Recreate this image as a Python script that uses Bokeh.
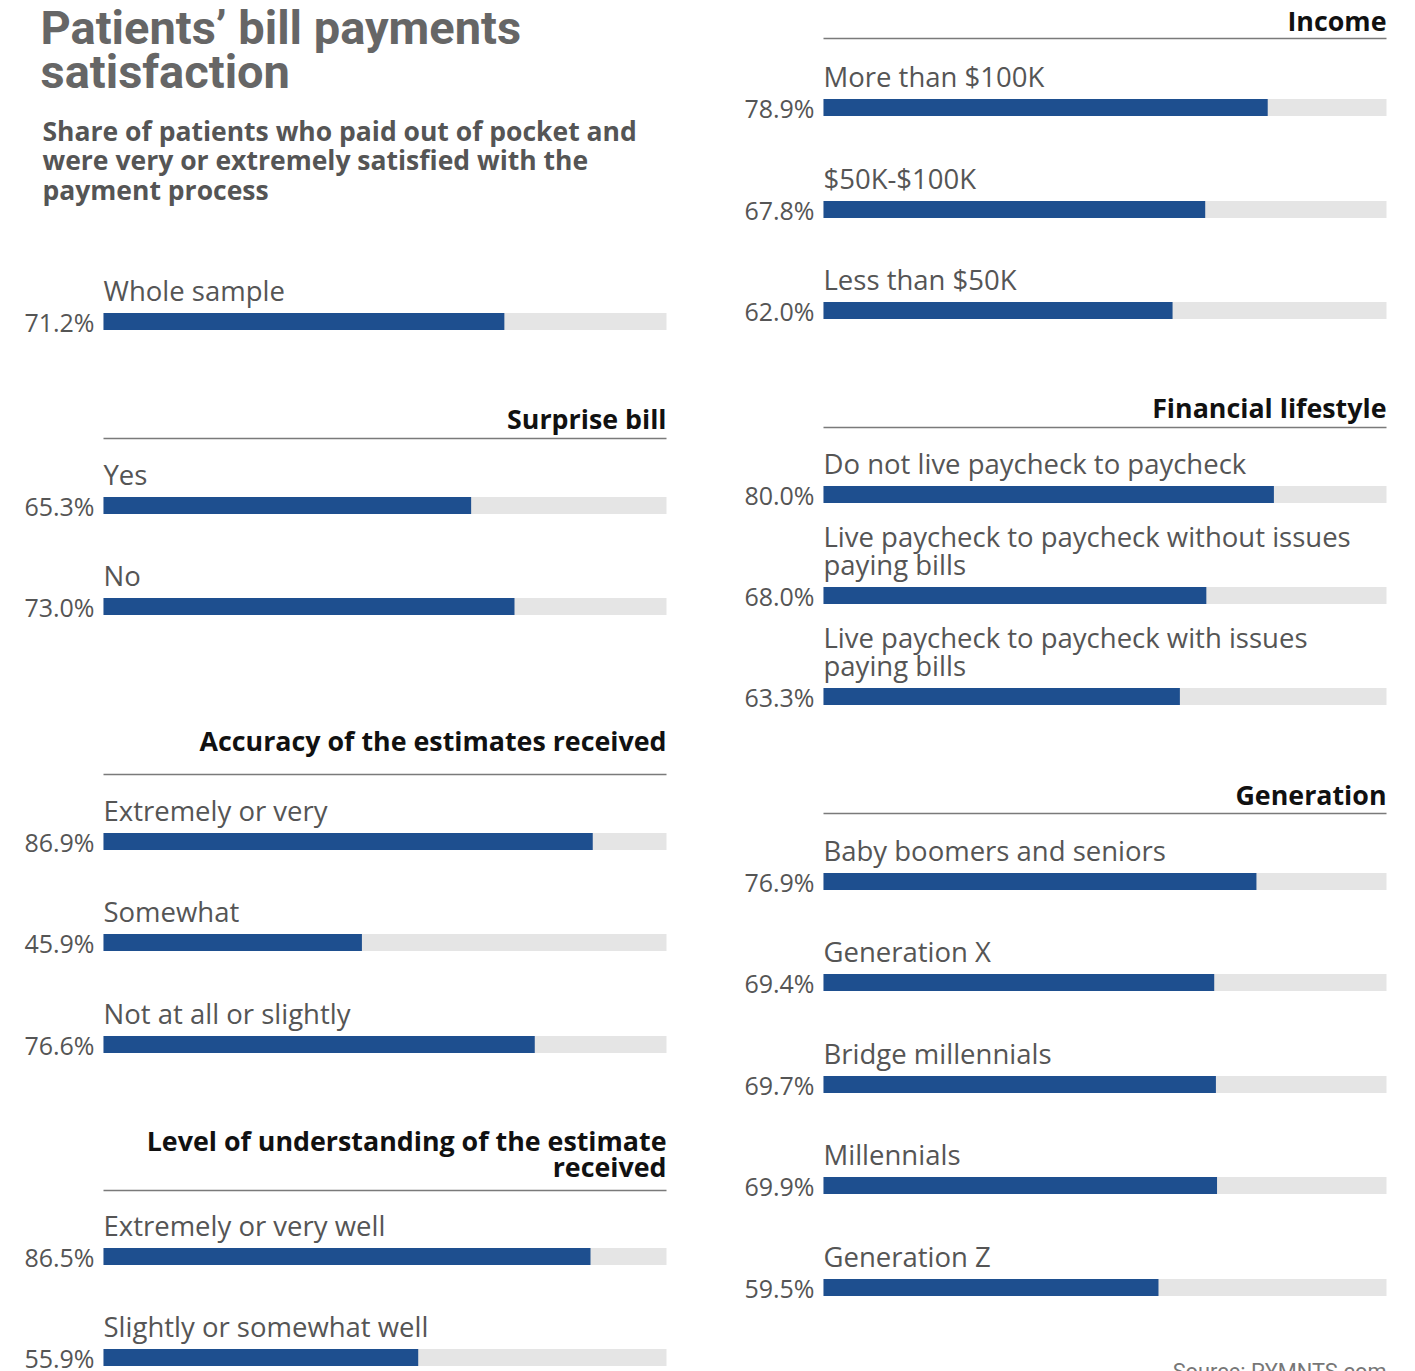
from bokeh.plotting import figure
from bokeh.models import Range1d, ColumnDataSource
from bokeh.core.properties import value
from bokeh.embed import file_html
from bokeh.resources import INLINE

# ---------------- data ----------------
whole_labels = ["Whole sample"]
whole_values = [71.2]

surprise_labels = ["Yes", "No"]
surprise_values = [65.3, 73.0]

accuracy_labels = ["Extremely or very", "Somewhat", "Not at all or slightly"]
accuracy_values = [86.9, 45.9, 76.6]

understanding_labels = ["Extremely or very well", "Slightly or somewhat well"]
understanding_values = [86.5, 55.9]

income_labels = ["More than $100K", "$50K-$100K", "Less than $50K"]
income_values = [78.9, 67.8, 62.0]

lifestyle_labels = ["Do not live paycheck to paycheck",
                    "Live paycheck to paycheck without issues\npaying bills",
                    "Live paycheck to paycheck with issues\npaying bills"]
lifestyle_values = [80.0, 68.0, 63.3]

generation_labels = ["Baby boomers and seniors", "Generation X", "Bridge millennials",
                     "Millennials", "Generation Z"]
generation_values = [76.9, 69.4, 69.7, 69.9, 59.5]

title_lines = ["Patients\u2019 bill payments", "satisfaction"]
subtitle_lines = ["Share of patients who paid out of pocket and",
                  "were very or extremely satisfied with the",
                  "payment process"]
source_text = "Source: PYMNTS.com"

# ---------------- layout ----------------
W, H = 1415, 1371
PX = 5.63            # pixels per percentage point
LEFT_PX = 103        # left track start (px)
RIGHT_OFF = 720 / PX # right column offset in data units

BLUE = "#1e4f8f"
TRACK = "#e5e5e5"
GREY_TXT = "#555555"
LABEL_FONT = "Open Sans"
BOLD_FONT = "Open Sans"

# section: (header lines, header y of last line, rule y, column offset, labels, values, bar y list)
sections = [
    ([], None, None, 0.0, whole_labels, whole_values, [321]),
    (["Surprise bill"], 418, 438, 0.0, surprise_labels, surprise_values, [505, 606]),
    (["Accuracy of the estimates received"], 740, 774, 0.0, accuracy_labels, accuracy_values, [841, 942, 1044]),
    (["Level of understanding of the estimate", "received"], 1166, 1190, 0.0,
     understanding_labels, understanding_values, [1256, 1357]),
    (["Income"], 20, 38, RIGHT_OFF, income_labels, income_values, [107, 209, 310]),
    (["Financial lifestyle"], 407, 427, RIGHT_OFF, lifestyle_labels, lifestyle_values, [494, 595, 696]),
    (["Generation"], 794, 813, RIGHT_OFF, generation_labels, generation_values, [881, 982, 1084, 1185, 1287]),
]

p = figure(width=W, height=H, output_backend="svg", toolbar_location=None,
           x_range=Range1d(-LEFT_PX / PX, (W - LEFT_PX) / PX),
           y_range=Range1d(H, 0), min_border=0)
p.axis.visible = False
p.grid.visible = False
p.outline_line_color = None
p.background_fill_color = "white"
p.border_fill_color = "white"

track = dict(l=[], r=[], t=[], b=[])
bars = dict(l=[], r=[], t=[], b=[])
lab = dict(x=[], y=[], text=[])
val = dict(x=[], y=[], text=[])
hdr = dict(x=[], y=[], text=[])
rule = dict(x0=[], x1=[], y=[])

BAR_H = 17
LINE_GAP = 28
LABEL_ABOVE = 31

for hlines, hy, ry, off, labels, values, ys in sections:
    for i, line in enumerate(hlines):
        hdr["x"].append(off + 100)
        hdr["y"].append(hy - (len(hlines) - 1 - i) * 26)
        hdr["text"].append(line)
    if ry is not None:
        rule["x0"].append(off)
        rule["x1"].append(off + 100)
        rule["y"].append(ry)
    for name, v, y in zip(labels, values, ys):
        track["l"].append(off); track["r"].append(off + 100)
        track["t"].append(y - BAR_H / 2); track["b"].append(y + BAR_H / 2)
        bars["l"].append(off); bars["r"].append(off + v)
        bars["t"].append(y - BAR_H / 2); bars["b"].append(y + BAR_H / 2)
        val["x"].append(off - 9 / PX); val["y"].append(y); val["text"].append(f"{v:.1f}%")
        parts = name.split("\n")
        for i, part in enumerate(parts):
            lab["x"].append(off)
            lab["y"].append(y - LABEL_ABOVE - (len(parts) - 1 - i) * LINE_GAP)
            lab["text"].append(part)

p.quad(left="l", right="r", top="t", bottom="b", source=ColumnDataSource(track),
       fill_color=TRACK, line_color=None)
p.quad(left="l", right="r", top="t", bottom="b", source=ColumnDataSource(bars),
       fill_color=BLUE, line_color=None)
p.segment(x0="x0", x1="x1", y0="y", y1="y", source=ColumnDataSource(rule),
          line_color="#7a7a7a", line_width=1.5)

p.text(x="x", y="y", text="text", source=ColumnDataSource(lab),
       text_font=value(LABEL_FONT), text_font_size="27.5px", text_color=GREY_TXT,
       text_baseline="middle", text_align="left")
p.text(x="x", y="y", text="text", source=ColumnDataSource(val),
       text_font=value(LABEL_FONT), text_font_size="25px", text_color=GREY_TXT,
       text_baseline="middle", text_align="right")
p.text(x="x", y="y", text="text", source=ColumnDataSource(hdr),
       text_font=value(BOLD_FONT), text_font_size="26.8px", text_font_style="bold",
       text_color="#111111", text_baseline="middle", text_align="right")

# title & subtitle
p.text(x=[-63 / PX] * len(title_lines), y=[27, 71][:len(title_lines)], text=title_lines,
       text_font=value("Roboto"), text_font_size="47px", text_font_style="bold",
       text_color="#666666", text_baseline="middle", text_align="left")
p.text(x=[-61 / PX] * len(subtitle_lines), y=[130, 159, 189][:len(subtitle_lines)], text=subtitle_lines,
       text_font=value("Open Sans"), text_font_size="26.5px", text_font_style="bold",
       text_color="#555555", text_baseline="middle", text_align="left")
p.text(x=[RIGHT_OFF + 100], y=[1371], text=[source_text],
       text_font=value("Roboto"), text_font_size="21.8px", text_color="#777777",
       text_baseline="middle", text_align="right")

open("out.html", "w").write(file_html(p, INLINE))
